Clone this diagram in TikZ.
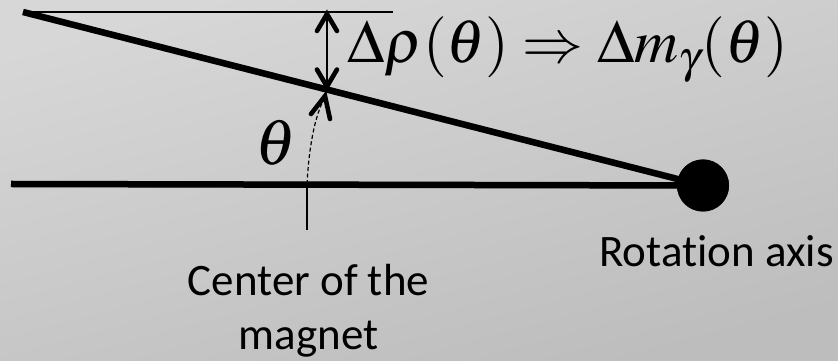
\documentclass[tikz,border=0pt]{standalone}
\usepackage[no-math]{fontspec}
\usepackage{mathptmx}
\usetikzlibrary{calc}
\newfontfamily\labfont[Ligatures=NoCommon]{Carlito}
\definecolor{bgtop}{RGB}{215,215,215}
\definecolor{bgbot}{RGB}{189,189,189}
\definecolor{shadowc}{RGB}{110,110,110}
\tikzset{
  thickline/.style={line width=6.5pt},
  thinline/.style={line width=1.6pt},
  chev/.style={line width=4.6pt, line cap=round, line join=miter},
  shadowline/.style={draw=shadowc, opacity=0.35, line width=6.5pt},
  lab/.style={font=\labfont\fontsize{45}{54}\selectfont, inner sep=0pt},
  mathlab/.style={inner sep=0pt, font=\fontsize{50}{60}\selectfont},
}
\begin{document}
\begin{tikzpicture}[x=1pt,y=1pt]
  \shade[top color=bgtop, bottom color=bgbot, shading angle=15] (0,0) rectangle (838,361);
  \useasboundingbox (0,0) rectangle (838,361);
  % key points
  \coordinate (tl) at (23,349);
  \coordinate (tr) at (393,349);
  \coordinate (hl) at (11,177);
  \node[circle, fill=black, minimum size=52pt, inner sep=0pt] (axis) at (703,175.5) {};
  \coordinate (p) at ($(tl)!0.447!(axis.center)$);
  \coordinate (ptop) at (p |- tl);
  \coordinate (pbot) at ($(p)+(0,1)$);
  \coordinate (tick) at (307,177);
  \coordinate (tickend) at (307,131);
  \coordinate (darrow) at (325,265);
  % shadows
  \begin{scope}[shift={(1.5,-3)}]
    \draw[shadowline] (hl) -- (axis.center);
    \draw[shadowline] (tl) -- (axis.center);
    \fill[shadowc, opacity=0.35] (axis.center) circle (26);
  \end{scope}
  % lines
  \draw[thinline] (tl) -- (tr);
  \draw[thickline] (tl) -- (axis.center);
  \draw[thickline] (hl) -- (axis.center);
  \fill (axis.center) circle (26);
  % double arrow
  \draw[thinline] (ptop) -- (pbot);
  \draw[chev] ($(ptop)+(-10,-19)$) -- ($(ptop)+(0,-2)$) -- ($(ptop)+(10,-19)$);
  \draw[chev] ($(pbot)+(-10,19)$) -- ($(pbot)+(0,2)$) -- ($(pbot)+(10,19)$);
  % tick and dashed arc arrow
  \draw[thinline] (tick) -- (tickend);
  \draw[line width=1.2pt, dash pattern=on 4pt off 2.5pt] (tick) .. controls (309,215) and (315,245) .. ($(darrow)+(-1,-3)$);
  \draw[chev] (311,247) -- (darrow) -- (330,242);
  % labels
  \node[mathlab, anchor=base west, scale=1.22] (dlab) at (347,298) {$\Delta\rho(\theta)\Rightarrow\Delta m_{\gamma}(\theta)$};
  \node[inner sep=0pt, font=\fontsize{56}{60}\selectfont, scale=1.15] (theta) at (276,218) {$\theta$};
  \node[lab, anchor=base east] (rot) at (834,94) {Rotation axis};
  \node[lab, anchor=base] (cen) at (308.5,65) {Center of the};
  \node[lab, anchor=base] (mag) at (308.5,11) {magnet};
\end{tikzpicture}
\end{document}
